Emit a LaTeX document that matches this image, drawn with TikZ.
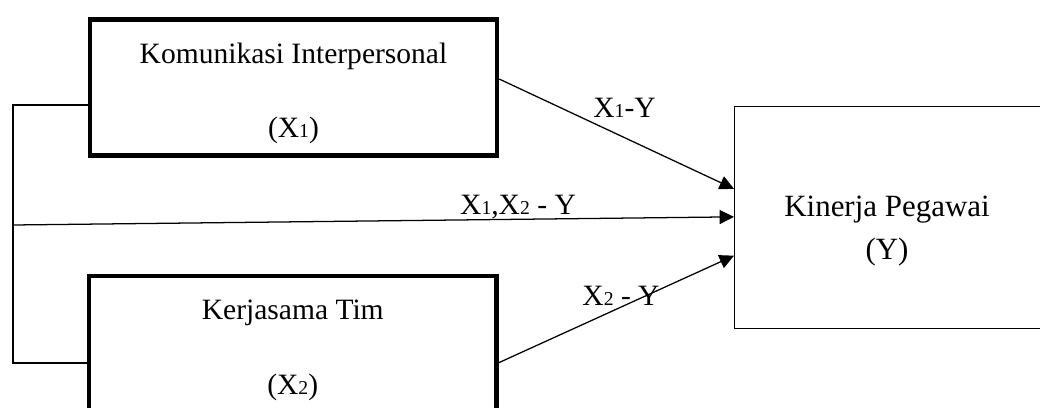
\documentclass[tikz,border=0pt]{standalone}
\usepackage{fontspec}
\setmainfont{Liberation Serif}
\usetikzlibrary{arrows.meta}
\tikzset{
  varbox/.style={draw, line width=3.2pt, inner sep=0pt, align=center, minimum width=10.175cm, minimum height=3.4cm},
  thinbox/.style={draw, line width=0.9pt, inner sep=0pt, minimum width=7.9cm, minimum height=5.55cm},
  link/.style={line width=0.9pt},
  arrowlink/.style={line width=0.9pt, -{Triangle[length=0.36cm, width=0.35cm]}},
  varlabel/.style={anchor=base, inner sep=0pt}
}
\newcommand{\subidx}[1]{{\fontsize{14}{16}\selectfont #1}}
\newcommand{\toppad}{\rule{0pt}{23pt}}
\begin{document}
\begin{tikzpicture}[x=0.025cm, y=-0.025cm, font=\fontsize{21}{25}\selectfont]
  \clip (0,0) rectangle (1040,408);
  % independent variables
  \node[varbox] (kx1) at (293.5,87.5) {\toppad Komunikasi Interpersonal\\[28pt](X\subidx{1})};
  \node[varbox] (kx2) at (292.75,344) {\toppad Kerjasama Tim\\[28pt](X\subidx{2})};
  % dependent variable
  \node[thinbox, anchor=north west] (ky) at (734,106) {};
  \node[align=center, inner sep=0pt, font=\fontsize{22}{26}\selectfont] (kytext) at (887,231) {Kinerja Pegawai\\[4pt](Y)};
  % bracket joining X1 and X2
  \coordinate (brtop) at (13,105);
  \coordinate (brmid) at (13,225);
  \coordinate (brbot) at (13,363);
  \draw[link] (brtop -| kx1.west) -- (brtop) -- (brbot) -- (brbot -| kx2.west);
  % paths
  \draw[arrowlink] ([yshift=6pt]kx1.east) -- ([yshift=0.72cm]ky.west);
  \draw[arrowlink] (brmid) -- ([yshift=0.02cm]ky.west);
  \draw[arrowlink] ([yshift=-0.47cm]kx2.east) -- ([yshift=-0.95cm]ky.west);
  % path labels
  \node[varlabel] (lbl1) at (624.5,117) {X\subidx{1}-Y};
  \node[varlabel] (lbl12) at (518,214) {X\subidx{1},X\subidx{2} - Y};
  \node[varlabel] (lbl2) at (621,305) {X\subidx{2} - Y};
\end{tikzpicture}
\end{document}
